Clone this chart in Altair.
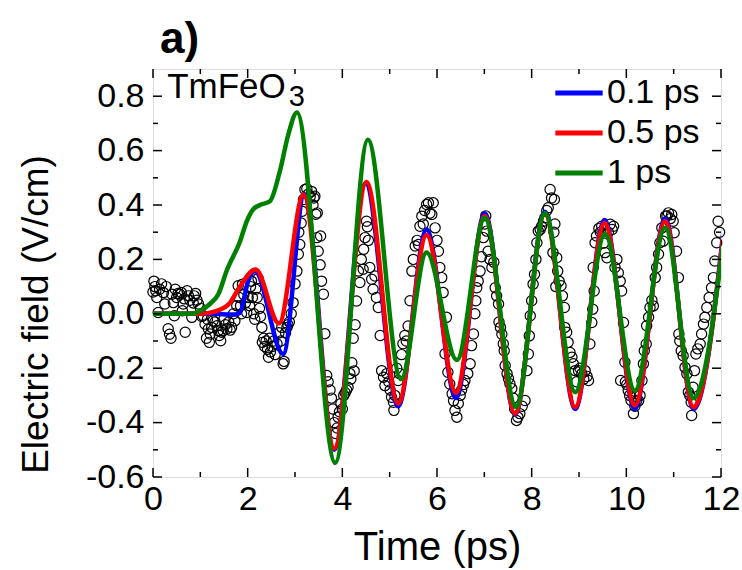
import altair as alt
import pandas as pd

FONT = "Liberation Sans"

# ---------------------------------------------------------------------------
# Measured THz transient (open circles): (time in ps, electric field in V/cm)
# ---------------------------------------------------------------------------
obs_baseline = [
    (0.00, 0.08), (0.02, 0.12), (0.04, 0.10), (0.06, 0.085), (0.08, 0.06), (0.11, 0.005),
    (0.14, 0.09), (0.18, 0.11), (0.22, 0.078), (0.25, 0.036), (0.28, 0.10), (0.32, -0.055),
    (0.35, -0.075), (0.38, -0.09), (0.40, 0.072), (0.43, 0.041), (0.45, -0.007), (0.47, 0.09),
    (0.50, 0.06), (0.53, 0.075), (0.57, 0.072), (0.60, 0.078), (0.62, 0.011), (0.64, 0.036),
    (0.66, 0.055), (0.68, -0.068), (0.72, 0.085), (0.75, 0.066), (0.78, 0.05), (0.82, -0.013),
    (0.85, 0.04), (0.87, 0.066), (0.90, 0.075), (0.93, 0.05), (0.96, 0.036), (1.00, 0.02),
    (1.03, -0.01), (1.06, -0.007), (1.10, -0.038), (1.13, -0.09), (1.15, -0.02), (1.17, -0.056),
    (1.19, -0.105), (1.21, -0.074), (1.24, -0.05), (1.27, -0.026), (1.31, -0.03), (1.35, -0.044),
    (1.38, -0.062), (1.40, -0.08), (1.43, -0.099), (1.45, -0.068), (1.48, -0.062), (1.50, -0.02),
    (1.53, -0.04), (1.56, -0.056), (1.60, -0.03), (1.63, -0.06), (1.66, -0.05), (1.70, 0.0),
    (1.73, -0.026), (1.77, 0.03), (1.80, 0.103),
]
obs_onset = [
    (1.82, 0.06), (1.85, 0.03), (1.87, 0.0), (1.89, 0.109), (1.92, 0.07), (1.95, 0.04),
    (1.98, 0.005), (2.01, 0.06), (2.04, 0.03), (2.06, 0.10), (2.08, 0.12), (2.10, 0.06),
    (2.13, 0.0), (2.15, -0.02), (2.17, 0.09), (2.20, 0.06), (2.22, 0.13), (2.25, 0.02),
    (2.27, -0.01), (2.30, -0.05), (2.31, -0.105), (2.34, -0.09), (2.36, -0.12), (2.39, -0.10),
    (2.42, -0.13), (2.44, -0.16), (2.46, -0.09), (2.48, -0.14), (2.52, -0.12), (2.55, -0.10),
    (2.58, -0.15), (2.62, -0.11), (2.66, -0.07), (2.70, -0.10), (2.72, -0.05), (2.75, -0.184),
    (2.77, -0.175), (2.80, -0.07), (2.83, -0.05), (2.85, -0.04), (2.88, -0.03), (2.92, 0.0),
    (2.96, 0.041),
]
obs_main_pulse = [
    (3.00, 0.11), (3.04, 0.157), (3.07, 0.219), (3.08, 0.30), (3.10, 0.255), (3.13, 0.334),
    (3.15, 0.377), (3.18, 0.42), (3.21, 0.457), (3.25, 0.46), (3.28, 0.44), (3.32, 0.43),
    (3.35, 0.45), (3.38, 0.40), (3.40, 0.426), (3.42, 0.432), (3.44, 0.366), (3.46, 0.28),
    (3.47, 0.371), (3.49, 0.23), (3.53, 0.18), (3.54, 0.286), (3.56, 0.12), (3.60, 0.072),
    (3.63, -0.073), (3.67, -0.227), (3.70, -0.25), (3.74, -0.28), (3.77, -0.31), (3.80, -0.35),
    (3.83, -0.40), (3.86, -0.44), (3.89, -0.42), (3.91, -0.38), (3.94, -0.36), (3.97, -0.33),
    (4.00, -0.35), (4.03, -0.30), (4.06, -0.29), (4.09, -0.28), (4.12, -0.27), (4.16, -0.22),
    (4.18, -0.24), (4.20, -0.18), (4.23, -0.09), (4.25, -0.21), (4.27, -0.04), (4.30, 0.047),
]
obs_cycle_2 = [
    (4.34, 0.157), (4.37, 0.115), (4.40, 0.20), (4.44, 0.164), (4.45, 0.237), (4.48, 0.28),
    (4.51, 0.34), (4.53, 0.32), (4.55, 0.27), (4.58, 0.17), (4.62, 0.127), (4.65, 0.09),
    (4.69, 0.139), (4.72, 0.06), (4.76, 0.023), (4.80, -0.08), (4.83, -0.209), (4.87, -0.233),
    (4.90, -0.264), (4.94, -0.22), (4.98, -0.25), (5.01, -0.28), (5.04, -0.307), (5.08, -0.325),
    (5.09, -0.355), (5.11, -0.30), (5.15, -0.20), (5.18, -0.245), (5.21, -0.22), (5.25, -0.15),
    (5.28, -0.11), (5.32, -0.08), (5.35, -0.10), (5.39, -0.045), (5.43, 0.048),
]
obs_cycle_3 = [
    (5.47, 0.157), (5.50, 0.20), (5.54, 0.249), (5.58, 0.27), (5.61, 0.255), (5.64, 0.322),
    (5.68, 0.359), (5.71, 0.33), (5.74, 0.38), (5.78, 0.402), (5.82, 0.408), (5.85, 0.37),
    (5.89, 0.365), (5.92, 0.408), (5.96, 0.316), (6.00, 0.27), (6.03, 0.23), (6.06, 0.17),
    (6.10, 0.133), (6.13, 0.078), (6.17, -0.147), (6.20, -0.013), (6.23, -0.215), (6.27, -0.258),
    (6.32, -0.294), (6.35, -0.32), (6.38, -0.355), (6.42, -0.38), (6.45, -0.33), (6.49, -0.30),
    (6.52, -0.28), (6.56, -0.26), (6.59, -0.245), (6.65, -0.22), (6.70, -0.184), (6.73, -0.117),
    (6.77, -0.074), (6.80, 0.0),
]
obs_cycle_4 = [
    (6.82, 0.048), (6.84, 0.096), (6.87, 0.12), (6.91, 0.157), (6.94, 0.21), (6.98, 0.28),
    (7.01, 0.33), (7.03, 0.36), (7.05, 0.304), (7.08, 0.23), (7.12, 0.20), (7.16, 0.17),
    (7.20, 0.19), (7.23, 0.096), (7.26, 0.066), (7.30, 0.036), (7.31, -0.03), (7.34, -0.05),
    (7.37, -0.075), (7.40, -0.11), (7.42, -0.136), (7.44, -0.19), (7.48, -0.22), (7.51, -0.238),
    (7.54, -0.257), (7.58, -0.275), (7.61, -0.31), (7.64, -0.35), (7.68, -0.392), (7.71, -0.38),
    (7.75, -0.367), (7.80, -0.34), (7.86, -0.319), (7.90, -0.209), (7.93, -0.148), (7.95, -0.081),
    (7.97, -0.007), (8.00, 0.048), (8.03, 0.109), (8.06, 0.145),
]
obs_cycle_5 = [
    (8.09, 0.20), (8.11, 0.261), (8.14, 0.304), (8.18, 0.31), (8.21, 0.322), (8.25, 0.34),
    (8.28, 0.353), (8.32, 0.38), (8.35, 0.39), (8.39, 0.457), (8.42, 0.426), (8.45, 0.225),
    (8.47, 0.30), (8.48, 0.42), (8.49, 0.33), (8.51, 0.10), (8.53, 0.206), (8.55, 0.157),
    (8.58, 0.12), (8.62, 0.103), (8.65, 0.066), (8.69, 0.023), (8.70, -0.05), (8.74, -0.068),
    (8.77, -0.105), (8.81, -0.142), (8.85, -0.16), (8.88, -0.184), (8.92, -0.209), (8.95, -0.25),
    (8.99, -0.209), (9.02, -0.20), (9.06, -0.22), (9.10, -0.24), (9.13, -0.209), (9.17, -0.23),
    (9.20, -0.245), (9.23, -0.111),
]
obs_cycle_6 = [
    (9.27, -0.032), (9.29, 0.017), (9.30, 0.17), (9.32, 0.084), (9.34, 0.261), (9.37, 0.286),
    (9.42, 0.314), (9.45, 0.30), (9.48, 0.322), (9.52, 0.26), (9.55, 0.225), (9.59, 0.206),
    (9.62, 0.30), (9.66, 0.329), (9.70, 0.31), (9.73, 0.322), (9.76, 0.17), (9.80, 0.20),
    (9.83, 0.151), (9.87, 0.12), (9.88, -0.245), (9.90, 0.084), (9.94, -0.032), (9.97, -0.178),
    (9.98, -0.25), (10.01, -0.26), (10.04, -0.282), (10.07, -0.30), (10.10, -0.319),
    (10.15, -0.367), (10.18, -0.34), (10.22, -0.319), (10.26, -0.32), (10.29, -0.30),
    (10.33, -0.245), (10.36, -0.184), (10.38, -0.136), (10.42, -0.111), (10.43, -0.044),
]
obs_cycle_7 = [
    (10.47, -0.013), (10.50, 0.023), (10.54, 0.05), (10.57, 0.029), (10.61, 0.133),
    (10.64, 0.17), (10.68, 0.219), (10.71, 0.261), (10.75, 0.316), (10.78, 0.267),
    (10.83, 0.359), (10.86, 0.36), (10.89, 0.371), (10.93, 0.35), (10.96, 0.365), (10.99, 0.34),
    (11.01, 0.298), (11.06, 0.23), (11.10, 0.133), (11.11, -0.074), (11.13, -0.10),
    (11.16, -0.136), (11.20, -0.154), (11.24, -0.197), (11.28, -0.221), (11.31, -0.288),
    (11.34, -0.30), (11.37, -0.325), (11.38, -0.374), (11.41, -0.27), (11.44, -0.209),
    (11.47, -0.148), (11.51, -0.129), (11.56, -0.111), (11.59, -0.074), (11.63, -0.038),
    (11.66, -0.013), (11.70, 0.023), (11.75, 0.06), (11.80, 0.096), (11.84, 0.133),
    (11.87, 0.194), (11.91, 0.261), (11.94, 0.34), (11.97, 0.30),
]

# ---------------------------------------------------------------------------
# Simulated field for three pulse durations: turning points of each trace
# ---------------------------------------------------------------------------
t_01ps = [0.0, 1.2, 1.73, 1.84, 2.01, 2.15, 2.75, 3.20, 3.83, 4.49, 5.18, 5.78, 6.40,
          7.01, 7.65, 8.28, 8.92, 9.54, 10.18, 10.82, 11.42, 12.08]
e_01ps = [0.0, 0.0, -0.003, 0.005, 0.12, 0.157, -0.148, 0.44, -0.50, 0.48, -0.34, 0.31, -0.31,
          0.37, -0.37, 0.375, -0.35, 0.345, -0.35, 0.35, -0.35, 0.35]

t_05ps = [0.0, 1.0, 1.35, 1.63, 1.80, 2.17, 2.66, 3.18, 3.83, 4.51, 5.18, 5.78, 6.40,
          7.01, 7.65, 8.28, 8.92, 9.54, 10.18, 10.82, 11.42, 12.08]
e_05ps = [0.0, 0.0, 0.011, 0.041, 0.09, 0.163, -0.035, 0.438, -0.495, 0.485, -0.33, 0.29, -0.29,
          0.36, -0.367, 0.367, -0.343, 0.334, -0.337, 0.34, -0.343, 0.34]

t_1ps = [0.0, 0.8, 1.0, 1.2, 1.38, 1.56, 1.84, 1.98, 2.12, 2.26, 2.47, 2.68, 2.86, 3.04,
         3.85, 4.54, 5.24, 5.78, 6.42, 7.01, 7.67, 8.28, 8.92, 9.55, 10.18, 10.82, 11.42, 12.08]
e_1ps = [0.0, 0.0, 0.011, 0.036, 0.072, 0.16, 0.267, 0.34, 0.385, 0.40, 0.414, 0.524, 0.66, 0.74,
         -0.548, 0.64, -0.24, 0.225, -0.17, 0.353, -0.343, 0.371, -0.288, 0.293, -0.282, 0.316,
         -0.31, 0.31]

series_names = ["0.1 ps", "0.5 ps", "1 ps"]
series_colors = ["#0000ff", "#ff0000", "#008000"]

x_major = [0, 2, 4, 6, 8, 10, 12]
x_minor = [1, 3, 5, 7, 9, 11]
y_major = [-0.6, -0.4, -0.2, 0.0, 0.2, 0.4, 0.6, 0.8]
y_minor = [-0.5, -0.3, -0.1, 0.1, 0.3, 0.5, 0.7]

# ---------------------------------------------------------------------------
# Layout
# ---------------------------------------------------------------------------
PLOT_W, PLOT_H = 568, 408
X_DOMAIN = [0, 12]
Y_DOMAIN = [-0.6, 0.9]
MAJOR_LEN, MINOR_LEN = 9, 5  # inward tick lengths, px
LABEL_SIZE = 34

x_per_px = (X_DOMAIN[1] - X_DOMAIN[0]) / PLOT_W
y_per_px = (Y_DOMAIN[1] - Y_DOMAIN[0]) / PLOT_H

xs = alt.Scale(domain=X_DOMAIN, nice=False, zero=False)
ys = alt.Scale(domain=Y_DOMAIN, nice=False, zero=False)

x_axis = alt.Axis(
    values=x_major, tickSize=0, domain=False, grid=False, labelFlush=False,
    labelOverlap=False, labelFontSize=LABEL_SIZE, labelFont=FONT, labelColor="black",
    labelPadding=5, labelFontWeight="normal", format="d",
    titleFontSize=40, titleFont=FONT, titleFontWeight="normal", titleColor="black",
    titleX=PLOT_W / 2, titleY=82, titleBaseline="alphabetic", titleAlign="center",
)
y_axis = alt.Axis(
    values=y_major, tickSize=0, domain=False, grid=False, labelFlush=False,
    labelOverlap=False, labelFontSize=LABEL_SIZE, labelFont=FONT, labelColor="black",
    labelPadding=9,
    labelExpr="(datum.value < 0 ? '-' : '') + format(abs(datum.value), '.1f')",
    titleFontSize=37, titleFont=FONT, titleFontWeight="normal", titleColor="black",
    titleX=-106, titleY=245, titleBaseline="alphabetic", titleAlign="center",
    titleAngle=270,
)

X_TITLE = "Time (ps)"
Y_TITLE = "Electric field (V/cm)"


def X(field):
    return alt.X(field, type="quantitative", scale=xs, axis=x_axis, title=X_TITLE)


def Y(field):
    return alt.Y(field, type="quantitative", scale=ys, axis=y_axis, title=Y_TITLE)


# measured points
obs_all = (obs_baseline + obs_onset + obs_main_pulse + obs_cycle_2 + obs_cycle_3
           + obs_cycle_4 + obs_cycle_5 + obs_cycle_6 + obs_cycle_7)
obs_df = pd.DataFrame(obs_all, columns=["t", "e"])

points = alt.Chart(obs_df).mark_point(
    shape="circle", filled=False, size=105, stroke="black", strokeWidth=1.2, opacity=1
).encode(x=X("t"), y=Y("e"))

# inward ticks on all four sides of the frame
seg = []
for v in x_major + x_minor:
    ln = (MAJOR_LEN if v in x_major else MINOR_LEN) * y_per_px
    seg.append((v, v, Y_DOMAIN[0], Y_DOMAIN[0] + ln))
    seg.append((v, v, Y_DOMAIN[1], Y_DOMAIN[1] - ln))
for v in y_major + y_minor:
    ln = (MAJOR_LEN if v in y_major else MINOR_LEN) * x_per_px
    seg.append((X_DOMAIN[0], X_DOMAIN[0] + ln, v, v))
    seg.append((X_DOMAIN[1], X_DOMAIN[1] - ln, v, v))
tick_df = pd.DataFrame(seg, columns=["x0", "x1", "y0", "y1"])

ticks = alt.Chart(tick_df).mark_rule(color="black", strokeWidth=1.5).encode(
    x=X("x0"), x2="x1", y=Y("y0"), y2="y1"
)

# legend swatch: a long horizontal stroke on a small symbol box, so rows stay compact
color_enc = alt.Color(
    "series:N",
    scale=alt.Scale(domain=series_names, range=series_colors),
    legend=alt.Legend(
        orient="none", legendX=409, legendY=7, title=None,
        labelFontSize=LABEL_SIZE, labelFont=FONT, labelColor="black", labelOffset=11,
        symbolType="M-2,0H2", symbolStrokeWidth=5, symbolSize=560, symbolOpacity=1,
        rowPadding=6, padding=0, labelLimit=0,
    ),
)


def trace(ts, es, name):
    df = pd.DataFrame({"t": ts, "e": es, "series": name})
    return alt.Chart(df).mark_line(
        strokeWidth=4.5, interpolate="monotone", clip=True
    ).encode(x=X("t"), y=Y("e"), color=color_enc, order="t:Q")


line_01 = trace(t_01ps, e_01ps, series_names[0])
line_05 = trace(t_05ps, e_05ps, series_names[1])
line_1 = trace(t_1ps, e_1ps, series_names[2])

# sample label with subscript
sample_main = alt.Chart(obs_df.head(1)).mark_text(
    text="TmFeO", font=FONT, fontSize=35, align="left", baseline="alphabetic", color="black"
).encode(x=alt.X(datum=0.3, type="quantitative", scale=xs, axis=x_axis, title=X_TITLE),
         y=alt.Y(datum=0.795, type="quantitative", scale=ys, axis=y_axis, title=Y_TITLE))
sample_sub = alt.Chart(obs_df.head(1)).mark_text(
    text="3", font=FONT, fontSize=29, align="left", baseline="alphabetic", color="black"
).encode(x=alt.X(datum=2.87, type="quantitative", scale=xs, axis=x_axis, title=X_TITLE),
         y=alt.Y(datum=0.765, type="quantitative", scale=ys, axis=y_axis, title=Y_TITLE))

chart = alt.layer(
    points, line_01, line_05, line_1, ticks, sample_main, sample_sub
).properties(
    width=PLOT_W,
    height=PLOT_H,
    title=alt.TitleParams(
        "a)", anchor="start", fontSize=44, fontWeight="bold", font=FONT, color="black",
        dx=7, offset=-29, baseline="alphabetic", frame="group",
    ),
    autosize=alt.AutoSizeParams(type="none"),
    padding={"left": 153, "top": 69, "right": 21, "bottom": 93},
).configure_view(
    stroke="black", strokeWidth=2
).configure(background="white")

chart.save("out.html", embed_options={"renderer": "svg", "actions": False})
